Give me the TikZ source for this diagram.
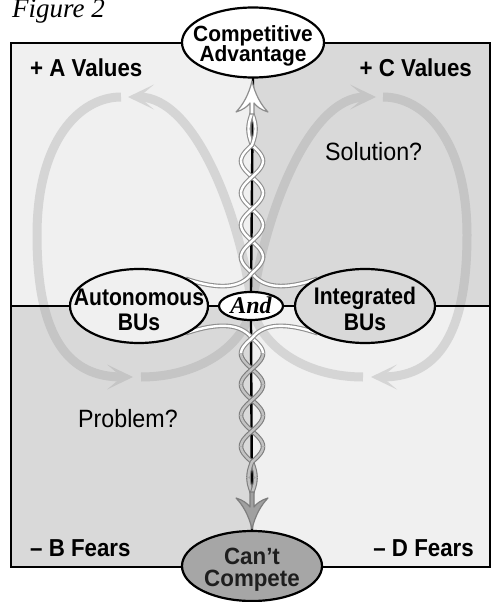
\documentclass[tikz,border=0pt]{standalone}
\usepackage{fontspec}
\setmainfont{Liberation Sans}
\newfontfamily\hb{Liberation Sans}[FakeStretch=0.88]
\newfontfamily\hbl{Liberation Sans}[FakeStretch=0.91]
\newfontfamily\hbw{Liberation Sans}[FakeStretch=0.95]
\newfontfamily\hr{Liberation Sans}[FakeStretch=0.93]
\newfontfamily\tms{Liberation Serif}
\usetikzlibrary{shapes.geometric,arrows.meta}
\pgfdeclarelayer{bg}
\pgfdeclarelayer{mid}
\pgfsetlayers{bg,mid,main}
\definecolor{qlight}{HTML}{F0F0F0}
\definecolor{qdark}{HTML}{D9D9D9}
\definecolor{bandL}{HTML}{D5D5D5}
\definecolor{bandD}{HTML}{C5C5C5}
\definecolor{ropeTopOut}{HTML}{8E8E8E}
\definecolor{ropeBotOut}{HTML}{7E7E7E}
\definecolor{ropeBotIn}{HTML}{C2C2C2}
\definecolor{cantfill}{HTML}{A6A6A6}
\definecolor{botarrow}{HTML}{A0A0A0}
\definecolor{darktext}{HTML}{1E1E1E}

\newcommand\twol[4]{\makebox[0pt]{\raisebox{#1}[0pt][0pt]{\vbox{\baselineskip=#2\lineskiplimit=-50pt\halign{\hfil##\hfil\cr#3\cr#4\cr}}}}}
\newcommand\onel[2]{\makebox[0pt]{\raisebox{#1}[0pt][0pt]{#2}}}
\newcommand\ropeseg[6]{%
 \draw[#1out] plot[domain=#6,samples=15,smooth,variable=\yy] ({252#2(#5)*sin(180*(\yy-#3)/#4)},{\yy});
 \draw[#1in] plot[domain=#6,samples=15,smooth,variable=\yy] ({252#2(#5)*sin(180*(\yy-#3)/#4)},{\yy});}
\newcommand\crossing[5]{\ropeseg{#1}{+}{#2}{#3}{#4}{#5}\ropeseg{#1}{-}{#2}{#3}{#4}{#5}}
\newcommand\bandpaths[1]{%
 \draw[band,#1] (141,377) .. controls (200,377) and (245,345) .. (252,306) .. controls (264,215) and (309,97) .. (376,97);
 \draw[band,#1] (363,377) .. controls (304,377) and (259,345) .. (252,306) .. controls (240,215) and (195,97) .. (128,97);
 \draw[band,#1] (121,97) .. controls (80,97) and (37,140) .. (37,235) .. controls (37,340) and (70,377) .. (133,377);
 \draw[band,#1] (383,97) .. controls (424,97) and (467,140) .. (467,235) .. controls (467,340) and (434,377) .. (371,377);}

\begin{document}
\begin{tikzpicture}[x=1pt,y=-1pt,
  ell/.style={ellipse, draw=black, line width=2.2pt, inner sep=0pt, outer sep=0pt},
  ellfont/.style={font=\hb\bfseries\fontsize{24}{25}\selectfont},
  lab/.style={inner sep=0pt, font=\hbl\bfseries\fontsize{24.5}{25}\selectfont},
  reg/.style={inner sep=0pt, font=\hr\fontsize{25}{25}\selectfont},
  band/.style={line width=9pt, -{Stealth[length=26pt,width=25pt,inset=15pt,line width=0pt]}},
  topout/.style={draw=ropeTopOut, line width=4.6pt},
  topin/.style={draw=white, line width=2.4pt},
  botout/.style={draw=ropeBotOut, line width=4.6pt},
  botin/.style={draw=ropeBotIn, line width=2.4pt},
  divider/.style={draw=black, line width=2pt},
  centerline/.style={draw=black, line width=2.4pt}]
\useasboundingbox (0,0) rectangle (492,602);

% ---------- nodes ----------
\node[ell, fill=white, minimum width=142pt, minimum height=70pt,
      font=\hbw\bfseries\fontsize{22}{20}\selectfont] (comp) at (253,42.5)
      {\twol{-19.5pt}{20pt}{Competitive}{Advantage}};
\node[ell, fill=qlight, minimum width=138pt, minimum height=74pt, ellfont] (auto) at (139,306)
      {\twol{-24pt}{25pt}{Autonomous}{BUs}};
\node[ell, fill=qdark, minimum width=140pt, minimum height=74pt, ellfont] (integ) at (365,306)
      {\twol{-24pt}{26pt}{Integrated}{BUs}};
\node[ell, fill=white, minimum width=64pt, minimum height=28pt,
      font=\tms\bfseries\itshape\fontsize{24}{24}\selectfont] (and) at (251,306)
      {\onel{-7pt}{And}};
\node[ell, fill=cantfill, minimum width=140pt, minimum height=70pt, text=darktext,
      font=\hbw\bfseries\fontsize{23.5}{22}\selectfont] (cant) at (252,566)
      {\twol{-20pt}{22pt}{Can’t}{Compete}};

\node[anchor=base west, inner sep=0pt, font=\tms\itshape\fontsize{27}{27}\selectfont] (fig) at (12,18) {Figure 2};
\node[lab, anchor=base west] (lA) at (30,77) {+ A Values};
\node[lab, anchor=base east] (lC) at (472,76) {+ C Values};
\node[lab, anchor=base west] (lB) at (30,556) {– B Fears};
\node[lab, anchor=base east] (lD) at (474,556) {– D Fears};
\node[reg, anchor=base west] (sol) at (325,160) {Solution?};
\node[reg, anchor=base west] (prob) at (78,427) {Problem?};

\coordinate (boxL) at (11,306);
\coordinate (boxR) at (490,306);

% ---------- background ----------
\begin{pgfonlayer}{bg}
 \fill[white] (0,0) rectangle (492,602);
 \fill[qlight] (11,43) rectangle (252,306);
 \fill[qdark] (252,43) rectangle (490,306);
 \fill[qdark] (11,306) rectangle (252,567);
 \fill[qlight] (252,306) rectangle (490,567);
 \begin{scope}
  \clip (11,43) rectangle (252,306) (252,306) rectangle (490,567);
  \bandpaths{draw=bandL}
 \end{scope}
 \begin{scope}
  \clip (252,43) rectangle (490,306) (11,306) rectangle (252,567);
  \bandpaths{draw=bandD}
 \end{scope}
 \draw[line width=2pt] (11,43) rectangle (490,567);
\end{pgfonlayer}

% ---------- connectors ----------
\begin{pgfonlayer}{mid}
 \draw[divider] (boxL) -- (auto.west) (auto.east) -- (and.west) (and.east) -- (integ.west) (integ.east) -- (boxR);
 \draw[centerline] (comp.south) -- (and.north) (and.south) -- (cant.north);

 % top rope
 \crossing{top}{113}{32}{3.5}{113:129}
 \crossing{top}{145}{32}{ifthenelse(\yy<145,3.5,11)}{129:161}
 \crossing{top}{177}{32}{11}{161:193}
 \crossing{top}{209}{32}{11}{193:225}
 \crossing{top}{241}{32}{11}{225:257}
 \draw[topout] plot[domain=257:273,samples=12,smooth,variable=\yy] ({252+11*sin(180*(\yy-273)/32)},{\yy}) .. controls (260,284) and (276,293) .. (integ.150);
 \draw[topin] plot[domain=257:273,samples=12,smooth,variable=\yy] ({252+11*sin(180*(\yy-273)/32)},{\yy}) .. controls (260,284) and (276,293) .. (integ.150);
 \draw[topout] plot[domain=257:273,samples=12,smooth,variable=\yy] ({252-11*sin(180*(\yy-273)/32)},{\yy}) .. controls (244,284) and (228,293) .. (auto.30);
 \draw[topin] plot[domain=257:273,samples=12,smooth,variable=\yy] ({252-11*sin(180*(\yy-273)/32)},{\yy}) .. controls (244,284) and (228,293) .. (auto.30);

 % bottom rope
 \draw[topout] (auto.-30) .. controls (228,319) and (244,328) .. (252,338) -- plot[domain=338:353.5,samples=12,smooth,variable=\yy] ({252+11*sin(180*(\yy-338)/31)},{\yy});
 \draw[topin] (auto.-30) .. controls (228,319) and (244,328) .. (252,338) -- plot[domain=338:353.5,samples=12,smooth,variable=\yy] ({252+11*sin(180*(\yy-338)/31)},{\yy});
 \draw[topout] (integ.-150) .. controls (276,319) and (260,328) .. (252,338) -- plot[domain=338:353.5,samples=12,smooth,variable=\yy] ({252-11*sin(180*(\yy-338)/31)},{\yy});
 \draw[topin] (integ.-150) .. controls (276,319) and (260,328) .. (252,338) -- plot[domain=338:353.5,samples=12,smooth,variable=\yy] ({252-11*sin(180*(\yy-338)/31)},{\yy});
 \crossing{bot}{369}{31}{11}{353.5:384.5}
 \crossing{bot}{400}{31}{11}{384.5:415.5}
 \crossing{bot}{431}{31}{11}{415.5:446.5}
 \crossing{bot}{462}{31}{ifthenelse(\yy>462,3.5,11)}{446.5:477.5}
 \crossing{bot}{493}{31}{3.5}{477.5:493}

 % arrow heads
 \draw[fill=white, draw=ropeTopOut, line width=1.2pt, line join=round]
   (252,81) .. controls (249,94) and (243,105) .. (236,112) .. controls (243,110) and (248,106) .. (250,103)
   -- (250,114) -- (254,114) -- (254,103) .. controls (256,106) and (261,110) .. (268,112)
   .. controls (261,105) and (255,94) .. (252,81) -- cycle;
 \draw[fill=botarrow, draw=ropeBotOut, line width=1.2pt, line join=round]
   (252,529) .. controls (249,516) and (243,505) .. (236,498) .. controls (243,500) and (248,504) .. (250,507)
   -- (250,492) -- (254,492) -- (254,507) .. controls (256,504) and (261,500) .. (268,498)
   .. controls (261,505) and (255,516) .. (252,529) -- cycle;
\end{pgfonlayer}
\end{tikzpicture}
\end{document}
